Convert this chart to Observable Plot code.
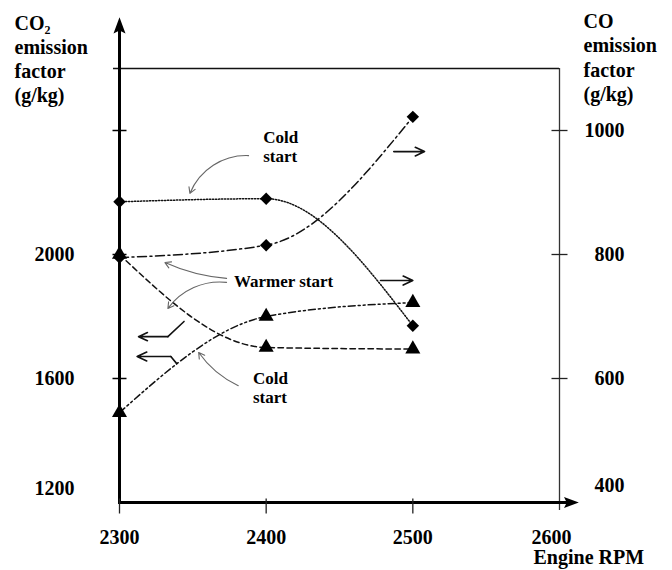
<!DOCTYPE html>
<html>
<head>
<meta charset="utf-8">
<script src="https://cdn.jsdelivr.net/npm/d3@7"></script>
<script src="https://cdn.jsdelivr.net/npm/@observablehq/plot@0.6"></script>
<style>
  html, body { margin: 0; padding: 0; background: #fff; }
  svg { overflow: visible; }
</style>
</head>
<body>
<div id="chart"></div>
<script>
// Engine speeds at which the two start conditions were measured
const rpm = [2300, 2400, 2500];

// CO emission factor, g/kg (right axis, diamonds)
const coColdStart = [885, 890, 685];
const coWarmerStart = [795, 815, 1022];

// CO2 emission factor, g/kg (left axis, triangles)
const co2WarmerStart = [2000, 1700, 1695];
const co2ColdStart = [1490, 1800, 1845];

// Axis ticks and labels
const rpmTicks = [2300, 2400, 2500, 2600];
const co2TickMarks = [2400, 2000, 1600];
const co2TickLabels = [2000, 1600, 1200];
const coTickMarks = [1000, 800, 600];
const coTickLabels = [1000, 800, 600, 400];

// The CO axis spans 400–1100 g/kg over the same height as CO2 1200–2600 g/kg
const coToCo2 = (co) => 1200 + 2 * (co - 400);
const co2ToCo = (v) => String(400 + (v - 1200) / 2);
const plain = (v) => String(v);

const seriesStyles = [
  {values: coColdStart, axis: "co", symbol: "diamond2", dash: "1.3,1.7"},
  {values: coWarmerStart, axis: "co", symbol: "diamond2", dash: "9,3.5,2,3.5"},
  {values: co2WarmerStart, axis: "co2", symbol: "triangle", dash: "5.5,3.5"},
  {values: co2ColdStart, axis: "co2", symbol: "triangle", dash: "7,3,2,3,2,3"}
];

const rowsOf = (s) => rpm.map((r, i) => ({
  rpm: r,
  y: s.axis === "co" ? coToCo2(s.values[i]) : s.values[i]
}));

// Custom symbols: short tick strokes and filled axis arrowheads
const hTick = {draw(ctx, size) { const r = Math.sqrt(size / Math.PI); ctx.moveTo(-r, 0); ctx.lineTo(r, 0); }};
const vTick = {draw(ctx, size) { const r = Math.sqrt(size / Math.PI); ctx.moveTo(0, -r); ctx.lineTo(0, r); }};
const headUp = {draw(ctx, size) {
  const r = Math.sqrt(size / Math.PI);
  ctx.moveTo(0, -1.7 * r); ctx.lineTo(r, r); ctx.lineTo(0, 0.5 * r); ctx.lineTo(-r, r); ctx.closePath();
}};

// Call-outs, positioned in chart units (RPM, CO2 g/kg)
const notes = [
  {x: 2398, y: 2348, text: "Cold\nstart"},
  {x: 2378, y: 1916, text: "Warmer start"},
  {x: 2391, y: 1571, text: "Cold\nstart"}
];
const leaders = [
  {x1: 2388, y1: 2319, x2: 2348, y2: 2197, bend: -35},
  {x1: 2373, y1: 1923, x2: 2331, y2: 1974, bend: 10},
  {x1: 2373, y1: 1910, x2: 2333, y2: 1826, bend: -30},
  {x1: 2381, y1: 1577, x2: 2354, y2: 1684, bend: 15}
];
const rightPointers = [
  {x1: 2487, y1: 2332, x2: 2508, y2: 2332},
  {x1: 2478, y1: 1916, x2: 2500, y2: 1916}
];
const leftPointers = [
  [{x: 2344, y: 1784}, {x: 2333, y: 1735}, {x: 2313, y: 1735}],
  [{x: 2339, y: 1648}, {x: 2335, y: 1671}, {x: 2312, y: 1671}]
];

const font = "'Liberation Serif', 'Times New Roman', serif";
const textStyle = {fontFamily: font, fontWeight: "bold", fill: "black"};

const marks = [];

// Frame: top rule, right CO axis, left CO2 axis and RPM axis with arrowheads
marks.push(Plot.ruleY([2600], {stroke: "#111", strokeWidth: 1.5, insetLeft: -6}));
marks.push(Plot.ruleX([2600], {stroke: "#333", strokeWidth: 1.3, insetBottom: -8}));
marks.push(Plot.ruleX([2300], {stroke: "black", strokeWidth: 3, insetTop: -44, insetBottom: -1}));
marks.push(Plot.ruleY([1200], {stroke: "black", strokeWidth: 3, insetRight: -12, insetLeft: -1}));
marks.push(Plot.dot([0], {frameAnchor: "top-left", dy: -41, symbol: headUp, r: 6, fill: "black", stroke: "none"}));
marks.push(Plot.dot([0], {frameAnchor: "bottom-right", dx: 10, symbol: headUp, r: 5.5, rotate: 90, fill: "black", stroke: "none"}));

// Tick strokes
marks.push(Plot.dot(co2TickMarks, {y: (d) => d, frameAnchor: "left", symbol: hTick, r: 7, stroke: "black", strokeWidth: 1.5, fill: "none"}));
marks.push(Plot.dot(coTickMarks, {y: (d) => coToCo2(d), frameAnchor: "right", symbol: hTick, r: 8, stroke: "#222", strokeWidth: 1.3, fill: "none"}));
marks.push(Plot.dot(rpmTicks.slice(0, 3), {x: (d) => d, frameAnchor: "bottom", dy: 3.5, symbol: vTick, r: 7.5, stroke: "#222", strokeWidth: 1.3, fill: "none"}));

// Tick labels
marks.push(Plot.axisY(co2TickLabels.filter((d) => d !== 1200), {anchor: "left", tickSize: 0, tickPadding: 45, tickFormat: plain, fontSize: 20, label: null, ...textStyle}));
marks.push(Plot.axisY([1200], {anchor: "left", tickSize: 0, tickPadding: 45, dy: -14, tickFormat: plain, fontSize: 20, label: null, ...textStyle}));
marks.push(Plot.axisY(coTickLabels.filter((d) => d !== 400).map(coToCo2), {anchor: "right", tickSize: 0, tickPadding: 65, textAnchor: "end", tickFormat: co2ToCo, fontSize: 20, label: null, ...textStyle}));
marks.push(Plot.axisY([coToCo2(400)], {anchor: "right", tickSize: 0, tickPadding: 65, textAnchor: "end", dy: -17, tickFormat: co2ToCo, fontSize: 20, label: null, ...textStyle}));
marks.push(Plot.axisX(rpmTicks.slice(0, 3), {anchor: "bottom", tickSize: 0, tickPadding: 27, tickFormat: plain, fontSize: 20, label: null, ...textStyle}));
marks.push(Plot.axisX([2600], {anchor: "bottom", tickSize: 0, tickPadding: 27, dx: -8, tickFormat: plain, fontSize: 20, label: null, ...textStyle}));

// Axis titles
marks.push(Plot.text(["CO₂\nemission\nfactor\n(g/kg)"], {frameAnchor: "top-left", dx: -105, dy: -56, textAnchor: "start", lineAnchor: "top", lineHeight: 1.2, fontSize: 20, ...textStyle}));
marks.push(Plot.text(["CO\nemission\nfactor\n(g/kg)"], {frameAnchor: "top-right", dx: 24, dy: -58, textAnchor: "start", lineAnchor: "top", lineHeight: 1.22, fontSize: 20, ...textStyle}));
marks.push(Plot.text(["Engine RPM"], {frameAnchor: "bottom-right", dx: -26, dy: 55, textAnchor: "start", lineAnchor: "middle", fontSize: 20, ...textStyle}));

// Data curves and markers
for (const s of seriesStyles) {
  marks.push(Plot.line(rowsOf(s), {x: "rpm", y: "y", curve: "monotone-x", stroke: "#111", strokeWidth: 1.5, strokeDasharray: s.dash}));
}
for (const s of seriesStyles) {
  marks.push(Plot.dot(rowsOf(s), {x: "rpm", y: "y", symbol: s.symbol, r: 5.6, fill: "black", stroke: "none"}));
}

// Call-out leaders and axis pointers
for (const l of leaders) {
  marks.push(Plot.arrow([l], {x1: "x1", y1: "y1", x2: "x2", y2: "y2", bend: l.bend, stroke: "#666", strokeWidth: 1.1, headLength: 9}));
}
marks.push(Plot.arrow(rightPointers, {x1: "x1", y1: "y1", x2: "x2", y2: "y2", stroke: "#111", strokeWidth: 1.6, headLength: 10, headAngle: 50}));
for (const p of leftPointers) {
  marks.push(Plot.line(p.slice(0, 2), {x: "x", y: "y", stroke: "#111", strokeWidth: 1.6}));
  marks.push(Plot.arrow([{x1: p[1].x, y1: p[1].y, x2: p[2].x, y2: p[2].y}], {x1: "x1", y1: "y1", x2: "x2", y2: "y2", stroke: "#111", strokeWidth: 1.6, headLength: 10, headAngle: 50}));
}

// Call-out text
marks.push(Plot.text(notes, {x: "x", y: "y", text: "text", textAnchor: "start", lineAnchor: "middle", lineHeight: 1.12, fontSize: 17, ...textStyle}));

const chart = Plot.plot({
  width: 672,
  height: 570,
  marginLeft: 119,
  marginRight: 113,
  marginTop: 68,
  marginBottom: 68,
  x: {domain: [2300, 2600]},
  y: {domain: [1200, 2600]},
  style: {background: "white", fontFamily: font, overflow: "visible"},
  marks
});
document.getElementById("chart").append(chart);
</script>
</body>
</html>
